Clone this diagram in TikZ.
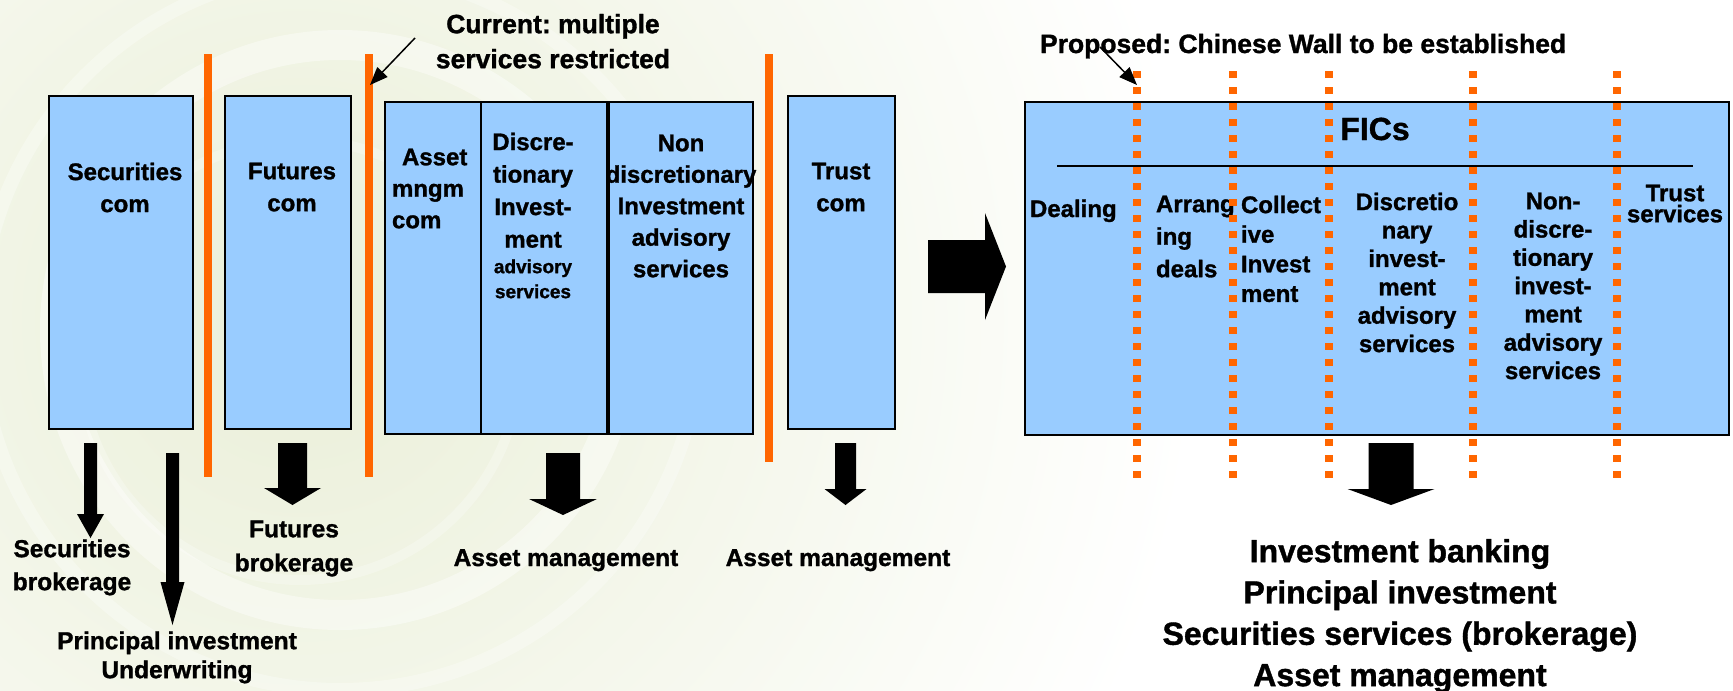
\documentclass[tikz,border=0pt]{standalone}
\usepackage{fontspec}
\setmainfont{Liberation Sans}[BoldFeatures={FakeBold=1.2}]
\usetikzlibrary{calc,arrows.meta}
\definecolor{boxblue}{HTML}{99CCFF}
\definecolor{wallor}{HTML}{FF6600}
\definecolor{bgpale}{HTML}{EAEFD8}
\newcommand\fsz[2]{\fontsize{#1}{#2}\selectfont}
\newcommand\blkdown[5]{%
  \fill[black] ($(#1)+(-#3,0)$) -- ($(#1)+(#3,0)$) -- ($(#2)+(#3,-#5)$) -- ($(#2)+(#4,-#5)$) -- (#2) -- ($(#2)+(-#4,-#5)$) -- ($(#2)+(-#3,-#5)$) -- cycle;}
\newcommand\blkright[5]{%
  \fill[black] ($(#1)+(0,-#3)$) -- ($(#2)+(-#5,-#3)$) -- ($(#2)+(-#5,-#4)$) -- (#2) -- ($(#2)+(-#5,#4)$) -- ($(#2)+(-#5,#3)$) -- ($(#1)+(0,#3)$) -- cycle;}
\frenchspacing
\begin{document}
\begin{tikzpicture}[x=1pt,y=-1pt,
  every node/.style={inner sep=0pt,outer sep=0pt},
  box/.style={draw=black,line width=2pt,fill=boxblue,anchor=north west},
  wall/.style={draw=wallor,line width=8pt},
  cwall/.style={draw=wallor,line width=7.5pt,dash pattern=on 6.5pt off 9.5pt},
  txt/.style={font=\bfseries\frenchspacing\fsz{24}{32}, align=center, anchor=north},
  ltxt/.style={font=\bfseries\fsz{24}{32}, align=left, anchor=north west},
  thinarrow/.style={draw=black,line width=1.5pt,-{Triangle[length=18pt,width=14pt]}}]
\useasboundingbox (0,0) rectangle (1733,691);
% background swirl
\begin{scope}
\clip (0,0) rectangle (1733,691);
\fill[white] (0,0) rectangle (1733,691);
\shade[inner color=bgpale, outer color=white] (300,320) circle (900);
\draw[white, line width=30pt, opacity=0.4] (340,330) circle (285);
\draw[white, line width=14pt, opacity=0.3] (340,330) circle (360);
\draw[white, line width=10pt, opacity=0.25] (300,360) circle (220);
\end{scope}

% walls (current)
\draw[wall] (208,54) -- (208,477);
\draw[wall] (369,54) -- (369,477);
\draw[wall] (769,54) -- (769,462);

% left boxes
\node[box, minimum width=144pt, minimum height=333pt] (sec) at (49,96) {};
\node[box, minimum width=126pt, minimum height=333pt] (fut) at (225,96) {};
\node[box, minimum width=96pt, minimum height=332pt] (am) at (385,102) {};
\node[box, minimum width=126pt, minimum height=332pt] (disc) at (481,102) {};
\node[box, minimum width=144pt, minimum height=332pt] (ndisc) at (609,102) {};
\node[box, minimum width=107pt, minimum height=333pt] (trust) at (788,96) {};

\node[txt] (sect) at (125,162.7) {Securities\\com};
\node[txt] (futt) at (292,162.7) {Futures\\com};
\node[txt] (trustt) at (841,162.7) {Trust\\com};
\node[ltxt, font=\bfseries\fsz{24}{31.5}] (amt) at (392,148.7) {\hspace*{10pt}Asset\\mngm\\com};
\node[txt, font=\bfseries\fsz{24}{32.5}] (disct) at (533,132.7) {Discre-\\tionary\\Invest-\\ment};
\node[txt, font=\bfseries\fsz{19}{25}] (disct2) at (533,259.4) {advisory\\services};
\node[txt, font=\bfseries\fsz{24}{31.5}] (ndisct) at (681,134.7) {Non\\discretionary\\Investment\\advisory\\services};

% annotation current
\node[txt, font=\bfseries\fsz{26.5}{35}] (cur) at (553,14) {Current: multiple\\services restricted};
\coordinate (curS) at (415,38);
\coordinate (curE) at (370,85);
\draw[thinarrow] (curS) -- (curE);

% left arrows
\coordinate (a1s) at (90.5,443); \coordinate (a1e) at (90.5,538);
\blkdown{a1s}{a1e}{6.5}{13.5}{24}
\coordinate (a2s) at (172.5,453); \coordinate (a2e) at (172.5,625);
\blkdown{a2s}{a2e}{6.5}{12}{43}
\coordinate (a3s) at (292.5,443); \coordinate (a3e) at (292.5,505);
\blkdown{a3s}{a3e}{14.5}{28.5}{17}
\coordinate (a4s) at (563,453); \coordinate (a4e) at (563,515);
\blkdown{a4s}{a4e}{17}{34}{16}
\coordinate (a5s) at (845.5,443); \coordinate (a5e) at (845.5,505);
\blkdown{a5s}{a5e}{10.5}{21}{16}

% bottom left labels
\node[txt, font=\bfseries\fsz{24.5}{33}] (secb) at (72,539.4) {Securities\\brokerage};
\node[txt, font=\bfseries\fsz{24.5}{34}] (futb) at (294,520.4) {Futures\\brokerage};
\node[txt, font=\bfseries\fsz{24.5}{29}] (princ) at (177,631.4) {Principal investment\\Underwriting};
\node[anchor=base, font=\bfseries\fsz{24.5}{30}] (amb1) at (566,566) {Asset management};
\node[anchor=base, font=\bfseries\fsz{24.5}{30}] (amb2) at (838,566) {Asset management};

% middle arrow
\coordinate (rs) at (928,266.5); \coordinate (re) at (1006,266.5);
\blkright{rs}{re}{26.5}{53.5}{21}

% FICs box
\node[box, minimum width=704pt, minimum height=333pt] (fics) at (1025,102) {};
\coordinate (hl1) at (1057,166); \coordinate (hl2) at (1693,166);
\draw[line width=1.5pt] (hl1) -- (hl2);
\node[anchor=base, font=\bfseries\fsz{32}{38}] (ficst) at (1375,140) {FICs};
\node[anchor=base west, font=\bfseries\fsz{24}{30}] (deal) at (1030,217) {Dealing};
\node[ltxt, font=\bfseries\fsz{24}{32.5}] (arr) at (1156,195.7) {Arrang\\ing\\deals};
\node[ltxt, font=\bfseries\fsz{24}{29.6}] (coll) at (1241,195.7) {Collect\\ive\\Invest\\ment};
\node[txt, font=\bfseries\fsz{24}{28.4}] (fdisc) at (1407,192.7) {Discretio\\nary\\invest-\\ment\\advisory\\services};
\node[txt, font=\bfseries\fsz{24}{28.3}] (fndisc) at (1553,192.7) {Non-\\discre-\\tionary\\invest-\\ment\\advisory\\services};
\node[txt, font=\bfseries\fsz{24}{21}] (ftrust) at (1675,184.7) {Trust\\services};

% Chinese walls
\foreach \x in {1137,1233,1329,1473,1617} \draw[cwall] (\x,71) -- (\x,478);

% proposed annotation
\node[anchor=base west, font=\bfseries\fsz{26.5}{32}] (prop) at (1040,53) {Proposed: Chinese Wall to be established};
\coordinate (prS) at (1100,47);
\coordinate (prE) at (1137,85);
\draw[thinarrow] (prS) -- (prE);

% bottom right arrow and text
\coordinate (a6s) at (1391,443); \coordinate (a6e) at (1391,505);
\blkdown{a6s}{a6e}{22.5}{43.5}{16}
\node[txt, font=\bfseries\fsz{32}{41.3}] (res) at (1400,539) {Investment banking\\Principal investment\\Securities services (brokerage)\\Asset management};
\end{tikzpicture}
\end{document}
